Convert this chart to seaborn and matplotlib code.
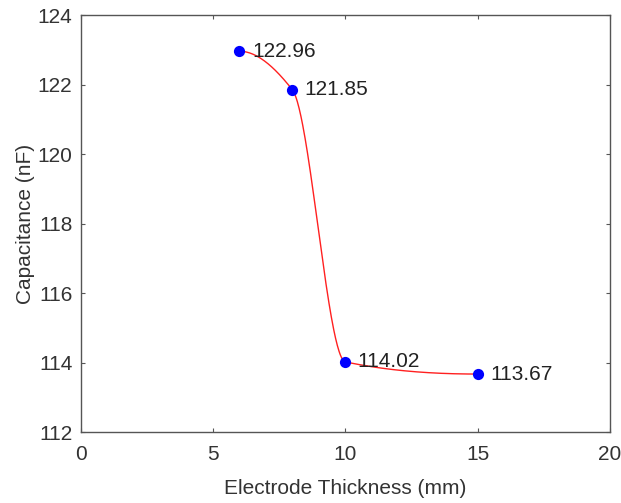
import numpy as np
import pandas as pd
import matplotlib
matplotlib.use("Agg")
import matplotlib.pyplot as plt
import seaborn as sns

thickness = [6, 8, 10, 15]
capacitance = [122.96, 121.85, 114.02, 113.67]
point_labels = ["122.96", "121.85", "114.02", "113.67"]
x_ticks = [0, 5, 10, 15, 20]
y_ticks = [112, 114, 116, 118, 120, 122, 124]


def pchip(x, y, xq):
    # shape-preserving cubic, same idea as MATLAB's pchip
    x = np.asarray(x, float)
    y = np.asarray(y, float)
    h = np.diff(x)
    d = np.diff(y) / h
    n = len(x)
    m = np.zeros(n)
    for k in range(1, n - 1):
        if d[k - 1] * d[k] > 0:
            w1 = 2 * h[k] + h[k - 1]
            w2 = h[k] + 2 * h[k - 1]
            m[k] = (w1 + w2) / (w1 / d[k - 1] + w2 / d[k])

    def end_slope(h0, h1, d0, d1):
        e = ((2 * h0 + h1) * d0 - h0 * d1) / (h0 + h1)
        if np.sign(e) != np.sign(d0):
            return 0.0
        if np.sign(d0) != np.sign(d1) and abs(e) > abs(3 * d0):
            return 3 * d0
        return e

    m[0] = end_slope(h[0], h[1], d[0], d[1])
    m[-1] = end_slope(h[-1], h[-2], d[-1], d[-2])

    idx = np.clip(np.searchsorted(x, xq) - 1, 0, n - 2)
    t = (xq - x[idx]) / h[idx]
    h00 = 2 * t**3 - 3 * t**2 + 1
    h10 = t**3 - 2 * t**2 + t
    h01 = -2 * t**3 + 3 * t**2
    h11 = t**3 - t**2
    return (h00 * y[idx] + h10 * h[idx] * m[idx]
            + h01 * y[idx + 1] + h11 * h[idx] * m[idx + 1])


sns.set_theme(style="white")
plt.rcParams["font.family"] = ["Liberation Sans", "DejaVu Sans"]

pts = pd.DataFrame({"x": thickness, "y": capacitance})
xs = np.linspace(thickness[0], thickness[-1], 400)
curve = pd.DataFrame({"x": xs, "y": pchip(thickness, capacitance, xs)})

fig = plt.figure(figsize=(6.21, 5.03), dpi=100)
ax = fig.add_axes([0.130, 0.141, 0.852, 0.829])

sns.lineplot(data=curve, x="x", y="y", ax=ax, color="#ff2020", linewidth=1.0)
sns.scatterplot(data=pts, x="x", y="y", ax=ax, color="#0000ff", s=65,
                edgecolor="#0000ff", linewidth=0, zorder=3)

for xv, yv, lab in zip(thickness, capacitance, point_labels):
    ax.annotate(lab, (xv, yv), xytext=(9, 0), textcoords="offset points",
                ha="left", va="center", fontsize=15, color="#222222")

ax.set_xlim(0, 20)
ax.set_ylim(112, 124)
ax.set_xticks(x_ticks)
ax.set_yticks(y_ticks)
ax.tick_params(axis="both", which="both", direction="in", length=3, width=0.8,
               color="#555555", labelsize=15, labelcolor="#333333",
               top=True, right=True, bottom=True, left=True)
ax.tick_params(axis="x", pad=9)
ax.tick_params(axis="y", pad=6)
for sp in ax.spines.values():
    sp.set_color("#555555")
    sp.set_linewidth(1.0)
ax.set_xlabel("Electrode Thickness (mm)", fontsize=15, color="#333333", labelpad=11)
ax.set_ylabel("Capacitance (nF)", fontsize=15, color="#333333", labelpad=2)

fig.savefig("out.png", dpi=100)
